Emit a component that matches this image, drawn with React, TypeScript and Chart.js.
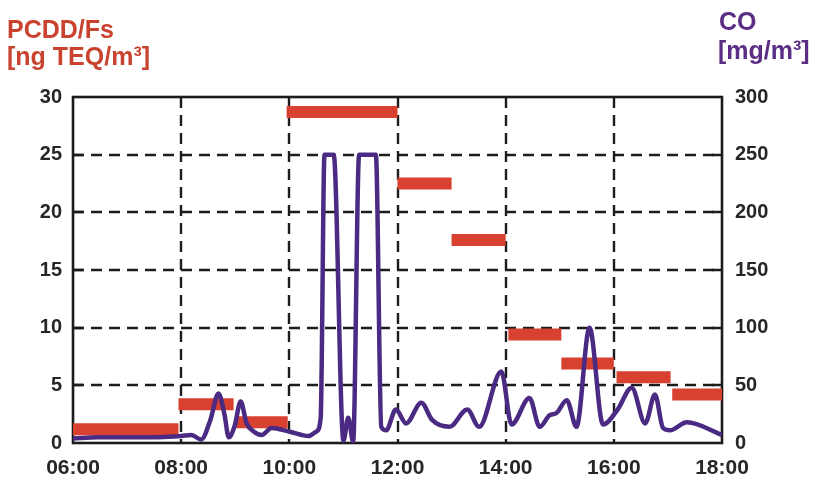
import React, { useEffect, useRef } from 'react';
import { Chart, registerables } from 'chart.js';

Chart.register(...registerables);

// CO concentration (right axis, mg/m³), time in hours
const coHours = [
  6.0, 6.46, 7.02, 7.58, 8.0, 8.19, 8.37, 8.54, 8.69, 8.8, 8.88, 8.99, 9.1, 9.21, 9.34, 9.49, 9.67, 9.99,
  10.36, 10.5, 10.58, 10.65, 10.82, 11.0, 11.09, 11.18, 11.29, 11.6, 11.7, 11.79, 11.97, 12.16, 12.44,
  12.64, 12.96, 13.29, 13.51, 13.92, 14.11, 14.44, 14.63, 14.81, 14.94, 15.13, 15.31, 15.55, 15.8, 16.07,
  16.33, 16.58, 16.76, 16.91, 17.04, 17.35, 18.0,
];
const coValues = [
  4, 5, 5, 5, 6, 7, 3, 20, 43, 25, 5, 15, 36, 17, 10, 7, 13, 10,
  6, 10, 22, 250, 250, 2, 22, 1, 250, 250, 14, 11, 29, 17, 35,
  20, 14, 29, 14, 62, 16, 39, 14, 24, 26, 37, 14, 100, 16, 29,
  48, 17, 42, 13, 11, 18, 7,
];

// PCDD/Fs sampling periods (left axis, ng TEQ/m³)
const pcddStart = [6.0, 7.95, 9.0, 9.95, 12.0, 13.0, 14.05, 15.03, 16.05, 17.08];
const pcddEnd = [7.95, 8.97, 9.97, 12.0, 13.0, 14.0, 15.03, 16.0, 17.05, 18.0];
const pcddValues = [1.2, 3.35, 1.8, 28.7, 22.5, 17.6, 9.4, 6.9, 5.7, 4.2];

const xTickHours = [6, 8, 10, 12, 14, 16, 18];
const xTickLabels = ['06:00', '08:00', '10:00', '12:00', '14:00', '16:00', '18:00'];
const leftTicks = [0, 5, 10, 15, 20, 25, 30];
const rightTicks = [0, 50, 100, 150, 200, 250, 300];

const FONT = '"Liberation Sans", Arial, Helvetica, sans-serif';
const RED = '#d8412f';
const PURPLE = '#4a2a82';
const INK = '#262626';

const framePlugin = {
  id: 'frame',
  beforeDatasetsDraw(chart: any) {
    const { ctx, chartArea } = chart;
    const { left, right, top, bottom } = chartArea;
    const xs = chart.scales.x;
    const ys = chart.scales.y;
    ctx.save();
    ctx.strokeStyle = '#1c1c1c';
    ctx.lineWidth = 2.4;
    ctx.setLineDash([11, 7]);
    xTickHours.slice(1, -1).forEach((h) => {
      const px = Math.round(xs.getPixelForValue(h));
      ctx.beginPath();
      ctx.moveTo(px, top);
      ctx.lineTo(px, bottom);
      ctx.stroke();
    });
    leftTicks.slice(1, -1).forEach((v) => {
      const py = Math.round(ys.getPixelForValue(v));
      ctx.beginPath();
      ctx.moveTo(left, py);
      ctx.lineTo(right, py);
      ctx.stroke();
    });
    ctx.setLineDash([]);
    // inward tick marks
    leftTicks.slice(1, -1).forEach((v) => {
      const py = Math.round(ys.getPixelForValue(v));
      ctx.beginPath();
      ctx.moveTo(left, py);
      ctx.lineTo(left + 10, py);
      ctx.moveTo(right, py);
      ctx.lineTo(right - 10, py);
      ctx.stroke();
    });
    ctx.lineWidth = 2.6;
    ctx.strokeRect(left, top, right - left, bottom - top);
    ctx.restore();
  },
  afterDraw(chart: any) {
    const { ctx } = chart;
    ctx.save();
    ctx.font = `bold 25px ${FONT}`;
    ctx.textBaseline = 'alphabetic';
    ctx.textAlign = 'left';
    ctx.fillStyle = '#c9432f';
    ctx.fillText('PCDD/Fs', 7, 38);
    ctx.fillText('[ng TEQ/m³]', 7, 65);
    ctx.fillStyle = '#5b2d84';
    ctx.fillText('CO', 719, 30);
    ctx.fillText('[mg/m³]', 718, 59);
    ctx.restore();
  },
};

export default function App() {
  const ref = useRef<HTMLCanvasElement | null>(null);

  useEffect(() => {
    if (!ref.current) return;
    const datasets: any[] = [
      {
        label: 'CO',
        data: coHours.map((h, i) => ({ x: h, y: coValues[i] })),
        yAxisID: 'y1',
        borderColor: PURPLE,
        borderWidth: 4.5,
        pointRadius: 0,
        cubicInterpolationMode: 'monotone',
        fill: false,
        order: 0,
      },
    ];
    pcddValues.forEach((v, i) => {
      datasets.push({
        label: 'PCDD/Fs ' + i,
        data: [
          { x: pcddStart[i], y: v },
          { x: pcddEnd[i], y: v },
        ],
        yAxisID: 'y',
        borderColor: RED,
        borderWidth: 12,
        borderCapStyle: 'butt',
        pointRadius: 0,
        tension: 0,
        fill: false,
        order: 1,
      });
    });

    const chart = new Chart(ref.current, {
      type: 'line',
      data: { datasets },
      plugins: [framePlugin],
      options: {
        animation: false,
        responsive: false,
        maintainAspectRatio: false,
        layout: { padding: { top: 97, left: 0, right: 0, bottom: 0 } },
        plugins: { legend: { display: false }, tooltip: { enabled: false }, title: { display: false } },
        scales: {
          x: {
            type: 'linear',
            min: 6,
            max: 18,
            afterBuildTicks: (s: any) => {
              s.ticks = xTickHours.map((v) => ({ value: v }));
            },
            afterFit: (s: any) => {
              s.height = 36;
            },
            grid: { display: false, drawTicks: false },
            border: { display: false },
            ticks: {
              padding: 13,
              color: INK,
              font: { family: FONT, size: 21, weight: 'bold' },
              maxRotation: 0,
              autoSkip: false,
              callback: (v: any) => xTickLabels[xTickHours.indexOf(Number(v))] ?? '',
            },
          },
          y: {
            type: 'linear',
            position: 'left',
            min: 0,
            max: 30,
            afterBuildTicks: (s: any) => {
              s.ticks = leftTicks.map((v) => ({ value: v }));
            },
            afterFit: (s: any) => {
              s.width = 73;
            },
            grid: { display: false, drawTicks: false },
            border: { display: false },
            ticks: {
              padding: 11,
              color: INK,
              font: { family: FONT, size: 20, weight: 'bold' },
            },
          },
          y1: {
            type: 'linear',
            position: 'right',
            min: 0,
            max: 300,
            afterBuildTicks: (s: any) => {
              s.ticks = rightTicks.map((v) => ({ value: v }));
            },
            afterFit: (s: any) => {
              s.width = 93;
            },
            grid: { display: false, drawTicks: false },
            border: { display: false },
            ticks: {
              padding: 13,
              color: INK,
              font: { family: FONT, size: 20, weight: 'bold' },
            },
          },
        },
      } as any,
    });
    return () => chart.destroy();
  }, []);

  return (
    <div style={{ position: 'absolute', left: 0, top: 0, width: 815, height: 479, background: '#fff' }}>
      <canvas ref={ref} width={815} height={479} style={{ width: 815, height: 479 }} />
    </div>
  );
}
